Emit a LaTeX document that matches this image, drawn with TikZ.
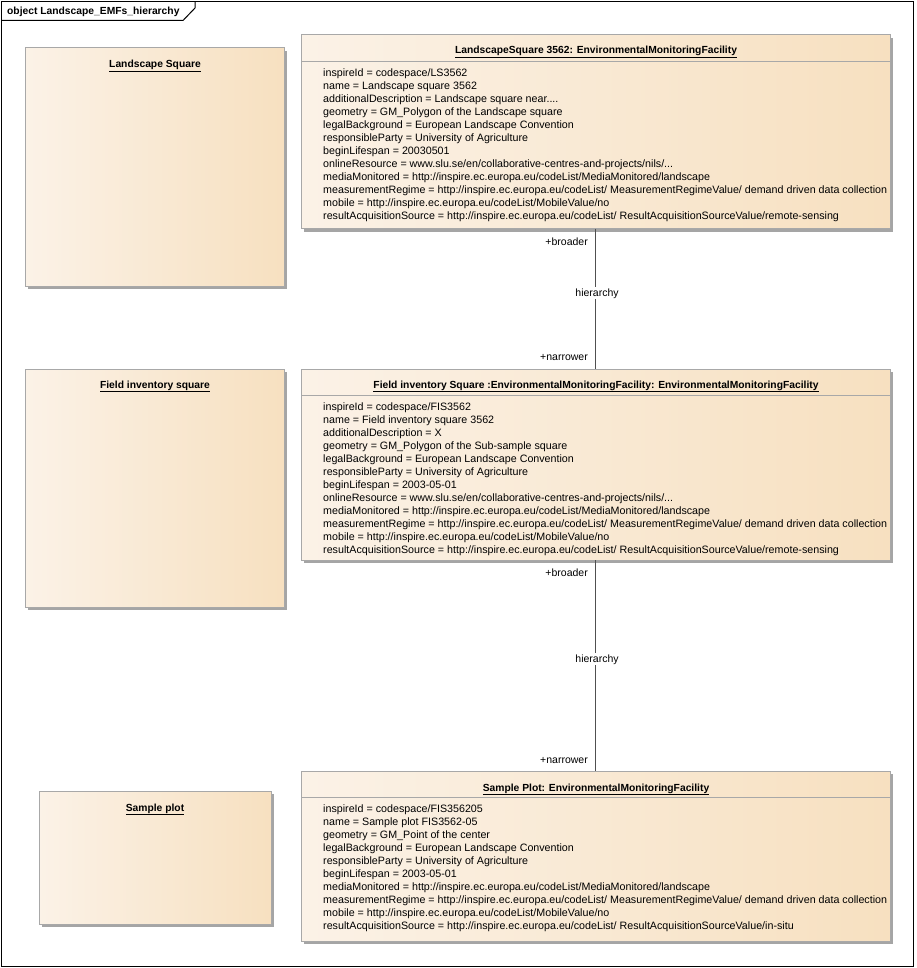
\documentclass[tikz,border=0pt]{standalone}
\usepackage{fontspec}
\setmainfont{Liberation Sans}
\usetikzlibrary{shadows}
\definecolor{fillL}{RGB}{251,242,231}
\definecolor{fillR}{RGB}{247,224,192}
\definecolor{bordergray}{RGB}{168,168,168}
\definecolor{shadowgray}{RGB}{165,165,165}
\definecolor{linegray}{RGB}{80,80,80}
\tikzset{
  objbox/.style={draw=bordergray, line width=1pt, left color=fillL, right color=fillR,
    drop shadow={shadow xshift=3pt, shadow yshift=-3pt, fill=shadowgray, opacity=1},
    anchor=north west, inner sep=0pt, outer sep=0pt},
  ttl/.style={font=\fontsize{10.3}{13}\selectfont\bfseries, inner sep=0pt, anchor=base},
  attrs/.style={font=\fontsize{10.7}{13}\selectfont, align=left, inner sep=0pt, anchor=north west},
  sepline/.style={draw=bordergray, line width=1pt},
  conn/.style={draw=linegray, line width=1pt},
  rolelbl/.style={font=\fontsize{10.5}{13}\selectfont, inner sep=0pt, anchor=base east},
  assoclbl/.style={font=\fontsize{10.5}{13}\selectfont, fill=white, inner sep=1pt, anchor=base},
}
\begin{document}
\begin{tikzpicture}[x=1pt,y=-1pt]
\useasboundingbox (0,0) rectangle (916,968);
% frame
\draw[line width=1pt] (1.5,1.5) rectangle (913,966.5);
\draw[line width=1pt] (1.5,20.5) -- (183,20.5) -- (195,8) -- (195,1.5);
\node[font=\fontsize{10.3}{13}\selectfont\bfseries, anchor=base west, inner sep=0pt] (frametitle) at (7,15) {object Landscape\_EMFs\_hierarchy};

% left boxes
\node[objbox, minimum width=259pt, minimum height=238pt] (ls) at (25,48) {};
\node[ttl] (lsT) at (155,68) {\underline{Landscape Square}};
\node[objbox, minimum width=259pt, minimum height=238pt] (fis) at (25,369) {};
\node[ttl] (fisT) at (155,388) {\underline{Field inventory square}};
\node[objbox, minimum width=232pt, minimum height=133pt] (sp) at (39,791) {};
\node[ttl] (spT) at (155,811) {\underline{Sample plot}};

% big box 1
\node[objbox, minimum width=589pt, minimum height=194pt] (b1) at (301,35) {};
\node[ttl] (b1T) at (596,54) {\underline{LandscapeSquare 3562: EnvironmentalMonitoringFacility}};
\draw[sepline] (301,61.5) -- (890,61.5);
\node[attrs] (b1A) at (323,68.3) {inspireId = codespace/LS3562\\
name = Landscape square 3562\\
additionalDescription = Landscape square near....\\
geometry = GM\_Polygon of the Landscape square\\
legalBackground = European Landscape Convention\\
responsibleParty = University of Agriculture\\
beginLifespan = 20030501\\
onlineResource = www.slu.se/en/collaborative-centres-and-projects/nils/...\\
mediaMonitored = http://inspire.ec.europa.eu/codeList/MediaMonitored/landscape\\
measurementRegime = http://inspire.ec.europa.eu/codeList/ MeasurementRegimeValue/ demand driven data collection\\
mobile = http://inspire.ec.europa.eu/codeList/MobileValue/no\\
resultAcquisitionSource = http://inspire.ec.europa.eu/codeList/ ResultAcquisitionSourceValue/remote-sensing};

% big box 2
\node[objbox, minimum width=589pt, minimum height=191pt] (b2) at (301,369) {};
\node[ttl] (b2T) at (596,388) {\underline{Field inventory Square :EnvironmentalMonitoringFacility: EnvironmentalMonitoringFacility}};
\draw[sepline] (301,395.5) -- (890,395.5);
\node[attrs] (b2A) at (323,402.3) {inspireId = codespace/FIS3562\\
name = Field inventory square 3562\\
additionalDescription = X\\
geometry = GM\_Polygon of the Sub-sample square\\
legalBackground = European Landscape Convention\\
responsibleParty = University of Agriculture\\
beginLifespan = 2003-05-01\\
onlineResource = www.slu.se/en/collaborative-centres-and-projects/nils/...\\
mediaMonitored = http://inspire.ec.europa.eu/codeList/MediaMonitored/landscape\\
measurementRegime = http://inspire.ec.europa.eu/codeList/ MeasurementRegimeValue/ demand driven data collection\\
mobile = http://inspire.ec.europa.eu/codeList/MobileValue/no\\
resultAcquisitionSource = http://inspire.ec.europa.eu/codeList/ ResultAcquisitionSourceValue/remote-sensing};

% big box 3
\node[objbox, minimum width=589pt, minimum height=170pt] (b3) at (301,771) {};
\node[ttl] (b3T) at (596,791) {\underline{Sample Plot: EnvironmentalMonitoringFacility}};
\draw[sepline] (301,797.5) -- (890,797.5);
\node[attrs] (b3A) at (323,804.3) {inspireId = codespace/FIS356205\\
name = Sample plot FIS3562-05\\
geometry = GM\_Point of the center\\
legalBackground = European Landscape Convention\\
responsibleParty = University of Agriculture\\
beginLifespan = 2003-05-01\\
mediaMonitored = http://inspire.ec.europa.eu/codeList/MediaMonitored/landscape\\
measurementRegime = http://inspire.ec.europa.eu/codeList/ MeasurementRegimeValue/ demand driven data collection\\
mobile = http://inspire.ec.europa.eu/codeList/MobileValue/no\\
resultAcquisitionSource = http://inspire.ec.europa.eu/codeList/ ResultAcquisitionSourceValue/in-situ};

% connectors
\draw[conn] (b1.south) -- (b2.north);
\draw[conn] (b2.south) -- (b3.north);
\node[rolelbl] (r1a) at (588,245) {+broader};
\node[assoclbl] (h1) at (597,296) {hierarchy};
\node[rolelbl] (r1b) at (588,360) {+narrower};
\node[rolelbl] (r2a) at (588,576) {+broader};
\node[assoclbl] (h2) at (597,662) {hierarchy};
\node[rolelbl] (r2b) at (588,763) {+narrower};
\end{tikzpicture}
\end{document}
